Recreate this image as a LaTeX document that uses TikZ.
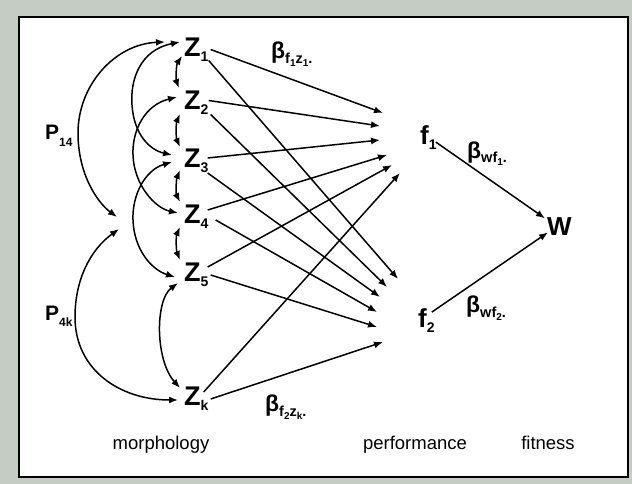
\documentclass[tikz,border=0pt]{standalone}
\usepackage{fontspec}
\setmainfont{Liberation Sans}
\usetikzlibrary{arrows.meta,calc}
\definecolor{bgcol}{RGB}{196,204,196}
\newcommand\zsub[1]{\raisebox{-5pt}{\fontsize{14}{14}\selectfont #1}}
\newcommand\bsub[1]{\raisebox{-5pt}{\fontsize{14.5}{14.5}\selectfont #1}}
\newcommand\bsubsub[1]{\raisebox{-3pt}{\fontsize{10}{10}\selectfont #1}}
\newcommand\psub[1]{\raisebox{-6pt}{\fontsize{12}{12}\selectfont #1}}
\tikzset{
  var/.style={inner sep=0pt, anchor=west, font=\fontsize{27}{27}\selectfont\bfseries},
  fvar/.style={inner sep=0pt, anchor=base west, font=\fontsize{26}{26}\selectfont\bfseries},
  lab/.style={inner sep=0pt, anchor=base west, font=\fontsize{23}{23}\selectfont\bfseries},
  plab/.style={inner sep=0pt, anchor=base west, font=\fontsize{21}{21}\selectfont\bfseries},
  capt/.style={inner sep=0pt, anchor=base, font=\fontsize{18.5}{19}\selectfont},
  tip/.tip={Latex[length=9pt,width=7pt]},
  arr/.style={line width=1.5pt, -tip},
  darr/.style={line width=1.5pt, tip-tip},
}
\begin{document}
\begin{tikzpicture}[x=1pt,y=-1pt]
\useasboundingbox (0,0) rectangle (632,484);
\fill[bgcol] (0,0) rectangle (632,484);
\fill[white] (19,17) rectangle (628,477);
\draw[line width=2pt] (19,17) rectangle (628,477);

% morphology variables
\node[var] (Z1) at (184,49.5) {Z\zsub{1}};
\node[var] (Z2) at (184,102.5) {Z\zsub{2}};
\node[var] (Z3) at (184,160.5) {Z\zsub{3}};
\node[var] (Z4) at (184,216.5) {Z\zsub{4}};
\node[var] (Z5) at (184,275) {Z\zsub{5}};
\node[var] (Zk) at (184,398.5) {Z\zsub{k}};
\coordinate (mid) at (118,223);

% performance and fitness
\node[fvar] (f1) at (420,145) {f\zsub{1}};
\node[fvar] (f2) at (418,327) {f\zsub{2}};
\node[fvar] (W) at (547,235) {W};

% labels
\node[plab] (P14) at (45,140) {P\psub{14}};
\node[plab] (P4k) at (45,320) {P\psub{4k}};
\node[lab] (b11) at (271,59) {β\bsub{f\bsubsub{1}z\bsubsub{1}.}};
\node[lab] (b2k) at (265,411) {β\bsub{f\bsubsub{2}z\bsubsub{k}.}};
\node[lab] (bw1) at (467,158) {β\bsub{wf\bsubsub{1}.}};
\node[lab] (bw2) at (466,312) {β\bsub{wf\bsubsub{2}.}};
\node[capt] (cm) at (161,449) {morphology};
\node[capt] (cp) at (415,449) {performance};
\node[capt] (cf) at (548,449) {fitness};

% arrow tips near f1 and f2
\coordinate (a1) at (383,113);
\coordinate (a2) at (380,126);
\coordinate (a3) at (380,140);
\coordinate (a4) at (387,155);
\coordinate (a5) at (392,165);
\coordinate (a6) at (400,173);
\coordinate (b1) at (398,279);
\coordinate (b2) at (387,287);
\coordinate (b3) at (380,297);
\coordinate (b4) at (377,312);
\coordinate (b5) at (377,327);
\coordinate (b6) at (383,342);

% Z -> f
\draw[arr] ($(Z1.east)+(2,0)$) -- (a1);
\draw[arr] ($(Z2.east)+(0,-2)$) -- (a2);
\draw[arr] ($(Z3.east)+(-1,-2.5)$) -- (a3);
\draw[arr] ($(Z4.east)+(-1,-6.5)$) -- (a4);
\draw[arr] ($(Z5.east)+(-1,-8)$) -- (a5);
\draw[arr] ($(Zk.east)+(-5,-6.5)$) -- (a6);
\draw[arr] ($(Z1.east)+(0,11)$) -- (b1);
\draw[arr] ($(Z2.east)+(2,12)$) -- (b2);
\draw[arr] ($(Z3.east)+(-1,12.5)$) -- (b3);
\draw[arr] ($(Z4.east)+(7,3.5)$) -- (b4);
\draw[arr] ($(Z5.east)+(2,0)$) -- (b5);
\draw[arr] ($(Zk.east)+(2,0.5)$) -- (b6);

% f -> W
\draw[arr] ($(f1.east)+(-1,4)$) -- ($(W.west)+(-2,-7.7)$);
\draw[arr] ($(f2.east)+(-3,-8)$) -- ($(W.west)+(1,6.3)$);

% correlations
\draw[darr] ($(mid)+(-1,-6)$) .. controls (98,203) and (78,175) .. (78,133)
  .. controls (78,85) and (115,44) .. ($(Z1.west)+(-19,-7.5)$);
\draw[darr] ($(mid)+(1,6)$) .. controls (90,250) and (75,280) .. (75,317)
  .. controls (75,370) and (120,400) .. ($(Zk.west)+(-6,1.5)$);
\draw[darr] ($(Z1.west)+(-4,-7.5)$) .. controls (140,50) and (130,80) .. (132,105)
  .. controls (134,135) and (150,150) .. ($(Z3.west)+(-12,-5.5)$);
\draw[darr] ($(Z2.west)+(-7,-5.5)$) .. controls (145,105) and (132,130) .. (133,155)
  .. controls (134,185) and (155,208) .. ($(Z4.west)+(-6,-3.5)$);
\draw[darr] ($(Z3.west)+(-12,1.5)$) .. controls (145,170) and (132,195) .. (133,220)
  .. controls (134,250) and (152,270) .. ($(Z5.west)+(-9,2)$);
\draw[darr] ($(Z5.west)+(-6,8)$) .. controls (155,300) and (155,360) .. ($(Zk.west)+(-4,-10.5)$);
\draw[darr] ($(Z1.west)+(-2,6.5)$) .. controls (176,65) and (176,80) .. ($(Z2.west)+(-5,-14.5)$);
\draw[darr] ($(Z2.west)+(-4,11.5)$) .. controls (176,123) and (176,138) .. ($(Z3.west)+(-4,-13.5)$);
\draw[darr] ($(Z3.west)+(-4,9.5)$) .. controls (176,180) and (176,194) .. ($(Z4.west)+(-4,-14.5)$);
\draw[darr] ($(Z4.west)+(-4,10.5)$) .. controls (176,236) and (176,250) .. ($(Z5.west)+(-4,-15)$);
\end{tikzpicture}
\end{document}
